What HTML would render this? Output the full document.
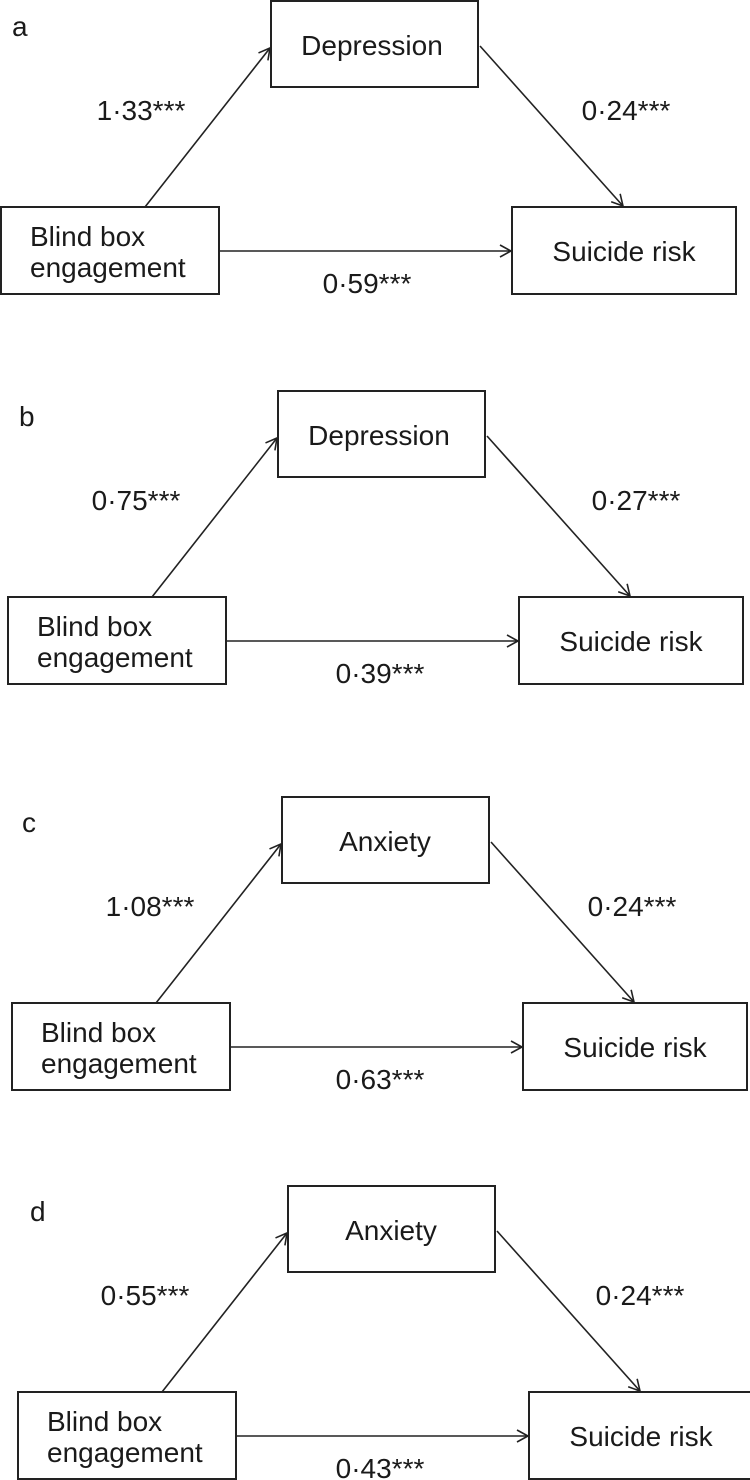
<!DOCTYPE html>
<html><head><meta charset="utf-8"><style>
html,body{margin:0;padding:0;background:#fff;}
svg{display:block}
text{font-family:"Liberation Sans",Arial,sans-serif;fill:#1a1a1a;font-size:28px}
.b{fill:#fff;stroke:#222;stroke-width:2}
.l{stroke:#222;stroke-width:1.6;fill:none}
</style></head><body>
<svg width="750" height="1480" viewBox="0 0 750 1480">
<defs>
<marker id="ah" markerWidth="14" markerHeight="14" refX="12" refY="7" orient="auto" markerUnits="userSpaceOnUse">
<path d="M1,1 L12,7 L1,13" fill="none" stroke="#222" stroke-width="1.6"/>
</marker>
</defs>

<g>
<rect class="b" x="271" y="1" width="207" height="86"/>
<rect class="b" x="1" y="207" width="218" height="87"/>
<rect class="b" x="512" y="207" width="224" height="87"/>
<line class="l" x1="145" y1="207" x2="270" y2="48" marker-end="url(#ah)"/>
<line class="l" x1="480" y1="46" x2="623" y2="206" marker-end="url(#ah)"/>
<line class="l" x1="219" y1="251" x2="511" y2="251" marker-end="url(#ah)"/>
<text x="372" y="55" text-anchor="middle">Depression</text>
<text x="30" y="246">Blind box</text>
<text x="30" y="277">engagement</text>
<text x="624" y="261" text-anchor="middle">Suicide risk</text>
<text x="12" y="36">a</text>
<text x="141" y="120" text-anchor="middle">1·33***</text>
<text x="626" y="120" text-anchor="middle">0·24***</text>
<text x="367" y="293" text-anchor="middle">0·59***</text>
</g>

<g transform="translate(7,390)">
<rect class="b" x="271" y="1" width="207" height="86"/>
<rect class="b" x="1" y="207" width="218" height="87"/>
<rect class="b" x="512" y="207" width="224" height="87"/>
<line class="l" x1="145" y1="207" x2="270" y2="48" marker-end="url(#ah)"/>
<line class="l" x1="480" y1="46" x2="623" y2="206" marker-end="url(#ah)"/>
<line class="l" x1="219" y1="251" x2="511" y2="251" marker-end="url(#ah)"/>
<text x="372" y="55" text-anchor="middle">Depression</text>
<text x="30" y="246">Blind box</text>
<text x="30" y="277">engagement</text>
<text x="624" y="261" text-anchor="middle">Suicide risk</text>
<text x="12" y="36">b</text>
<text x="129" y="120" text-anchor="middle">0·75***</text>
<text x="629" y="120" text-anchor="middle">0·27***</text>
<text x="373" y="293" text-anchor="middle">0·39***</text>
</g>

<g transform="translate(11,796)">
<rect class="b" x="271" y="1" width="207" height="86"/>
<rect class="b" x="1" y="207" width="218" height="87"/>
<rect class="b" x="512" y="207" width="224" height="87"/>
<line class="l" x1="145" y1="207" x2="270" y2="48" marker-end="url(#ah)"/>
<line class="l" x1="480" y1="46" x2="623" y2="206" marker-end="url(#ah)"/>
<line class="l" x1="219" y1="251" x2="511" y2="251" marker-end="url(#ah)"/>
<text x="374" y="55" text-anchor="middle">Anxiety</text>
<text x="30" y="246">Blind box</text>
<text x="30" y="277">engagement</text>
<text x="624" y="261" text-anchor="middle">Suicide risk</text>
<text x="11" y="36">c</text>
<text x="139" y="120" text-anchor="middle">1·08***</text>
<text x="621" y="120" text-anchor="middle">0·24***</text>
<text x="369" y="293" text-anchor="middle">0·63***</text>
</g>

<g transform="translate(17,1185)">
<rect class="b" x="271" y="1" width="207" height="86"/>
<rect class="b" x="1" y="207" width="218" height="87"/>
<rect class="b" x="512" y="207" width="224" height="87"/>
<line class="l" x1="145" y1="207" x2="270" y2="48" marker-end="url(#ah)"/>
<line class="l" x1="480" y1="46" x2="623" y2="206" marker-end="url(#ah)"/>
<line class="l" x1="219" y1="251" x2="511" y2="251" marker-end="url(#ah)"/>
<text x="374" y="55" text-anchor="middle">Anxiety</text>
<text x="30" y="246">Blind box</text>
<text x="30" y="277">engagement</text>
<text x="624" y="261" text-anchor="middle">Suicide risk</text>
<text x="13" y="36">d</text>
<text x="128" y="120" text-anchor="middle">0·55***</text>
<text x="623" y="120" text-anchor="middle">0·24***</text>
<text x="363" y="293" text-anchor="middle">0·43***</text>
</g>
</svg>
</body></html>
